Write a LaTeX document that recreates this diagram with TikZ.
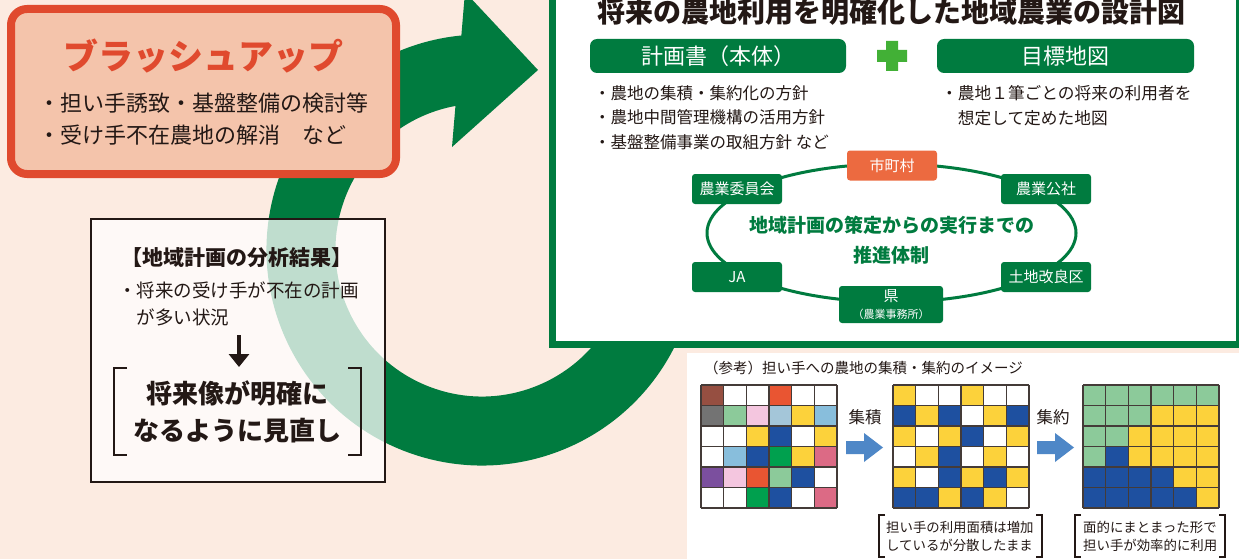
\documentclass[tikz,border=0pt]{standalone}
\usepackage{fontspec}
\setmainfont{Noto Sans CJK JP}
\usetikzlibrary{positioning,arrows.meta}

\definecolor{bgpeach}{HTML}{FCEBE1}
\definecolor{ringgreen}{HTML}{007B3F}
\definecolor{brushred}{HTML}{E04A2E}
\definecolor{brushfill}{HTML}{F4C4AB}
\definecolor{inkdark}{HTML}{231815}
\definecolor{plusgreen}{HTML}{42B036}
\definecolor{cityorange}{HTML}{EC6A40}
\definecolor{arrowblue}{HTML}{4E87C7}
% cell colours of the parcel maps
\definecolor{cellW}{HTML}{FFFFFF}
\definecolor{cellY}{HTML}{FCD23B}
\definecolor{cellB}{HTML}{1E50A0}
\definecolor{cellG}{HTML}{8CCA9A}
\definecolor{cellD}{HTML}{00A04E}
\definecolor{cellR}{HTML}{E95532}
\definecolor{cellN}{HTML}{964F41}
\definecolor{cellK}{HTML}{737373}
\definecolor{cellP}{HTML}{F4C6DF}
\definecolor{cellS}{HTML}{A4C6D9}
\definecolor{cellL}{HTML}{88BEDC}
\definecolor{cellM}{HTML}{DC6A85}
\definecolor{cellV}{HTML}{7B4F9E}

\def\cellw{22.67}
\def\cellh{20.5}
\def\gridtop{385}
\newcommand\plotgrid[2]{%
\foreach \cells [count=\r from 0] in {#2} {
\foreach \c [count=\k from 0] in \cells
\fill[fill=cell\c] ({#1+\k*\cellw},{\gridtop+\r*\cellh}) rectangle ++(\cellw,\cellh);
}
\foreach \k in {0,...,6} {
\draw[gridrule] ({#1+\k*\cellw},\gridtop) -- ++(0,{6*\cellh});
\draw[gridrule] (#1,{\gridtop+\k*\cellh}) -- ++({6*\cellw},0);
}
}

\tikzset{blockarrow/.pic={
\fill[arrowblue] (0,-6.5) -- (18,-6.5) -- (18,-14.5) -- (37,0) -- (18,14.5) -- (18,6.5) -- (0,6.5) -- cycle;
}}

\begin{document}
\begin{tikzpicture}[x=1pt,y=-1pt,
every node/.style={inner sep=0pt,text=inkdark},
ring/.style={draw=ringgreen,line width=69pt},
pill/.style={fill=ringgreen,rounded corners=7pt,text=white,minimum height=34pt,font=\fontsize{22}{26}\selectfont},
orgbox/.style={fill=ringgreen,rounded corners=3pt,text=white,minimum width=90pt,minimum height=30pt,font=\fontsize{15}{17}\selectfont},
gridrule/.style={draw=inkdark!85,line width=1.1pt},
bracket/.style={draw=inkdark,line width=1.3pt},
note/.style={anchor=west,align=left,font=\fontsize{13.4}{18}\selectfont}]
\useasboundingbox (0,0) rectangle (1239,559);
\fill[bgpeach] (0,0) rectangle (1239,559);

% circular arrow
\draw[ring] (482,250) ++(20:181) arc[start angle=20,end angle=265,radius=181];
\fill[ringgreen] (452,147) -- (538,70) -- (465,-8) -- cycle;

% brush up
\node[draw=brushred,fill=brushfill,line width=8pt,rounded corners=16pt,minimum width=385pt,minimum height=165pt] (brush) at (203.5,91.5) {};
\node[font=\bfseries\fontsize{35}{40}\selectfont,text=brushred] (brushhead) at (203.5,56) {ブラッシュアップ};
\node[anchor=west,align=left,font=\fontsize{22}{32}\selectfont] (brushlist) at (38,119) {・担い手誘致・基盤整備の検討等\\・受け手不在農地の解消　など};

% analysis
\node[draw=inkdark,line width=1.5pt,fill=white,fill opacity=.75,minimum width=294pt,minimum height=263pt] (review) at (238,350.5) {};
\node[font=\bfseries\fontsize{21}{24}\selectfont] (reviewhead) at (236.5,258) {【地域計画の分析結果】};
\node[anchor=west,align=left,font=\fontsize{18.5}{27}\selectfont] (finding) at (118,303.5) {・将来の受け手が不在の計画\\\phantom{・}が多い状況};
\coordinate (arrtop) at (239,335);
\coordinate (arrbot) at (239,367);
\draw[line width=4pt,-{Triangle[width=20pt,length=13pt]},inkdark] (arrtop) -- (arrbot);
\draw[bracket] (127,368) -- (114,368) -- (114,455) -- (127,455);
\draw[bracket] (348,368) -- (361,368) -- (361,455) -- (348,455);
\node[font=\bfseries\fontsize{26}{37}\selectfont,align=center] (goal) at (237.5,411.5) {将来像が明確に\\なるように見直し};

% design of regional farming
\node[draw=ringgreen,line width=7pt,fill=white,minimum width=687.5pt,minimum height=351pt,anchor=north west] (design) at (548.5,-10) {};
\node[font=\bfseries\fontsize{28}{32}\selectfont] (title) at (891,12) {将来の農地利用を明確化した地域農業の設計図};
\node[pill,minimum width=256pt] (plan) at (718,56) {計画書（本体）};
\node[pill,minimum width=257pt] (map) at (1065.5,56) {目標地図};
\fill[plusgreen] (877,50) rectangle (907,62) (886,41) rectangle (898,71);
\node[anchor=west,align=left,font=\fontsize{16.5}{24.5}\selectfont] (planlist) at (594,117.5) {・農地の集積・集約化の方針\\・農地中間管理機構の活用方針\\・基盤整備事業の取組方針 など};
\node[anchor=west,align=left,font=\fontsize{16.7}{25}\selectfont] (maplist) at (941,105.5) {・農地１筆ごとの将来の利用者を\\\phantom{・}想定して定めた地図};

% promotion system
\draw[line width=3pt,ringgreen] (891.5,233) ellipse[x radius=184.5,y radius=69];
\node[orgbox,fill=cityorange] (city) at (892,165.5) {市町村};
\node[orgbox] (committee) at (737,189) {農業委員会};
\node[orgbox] (corp) at (1046,189) {農業公社};
\node[orgbox] (ja) at (737,277) {JA};
\node[orgbox] (landimp) at (1046,277) {土地改良区};
\node[orgbox,minimum width=104pt,minimum height=37pt,align=center] (pref) at (891,304.5) {県\\{\fontsize{11}{14}\selectfont （農業事務所）}};
\node[font=\bfseries\fontsize{19}{30}\selectfont,text=ringgreen,align=center] (system) at (891.5,240) {地域計画の策定からの実行までの\\推進体制};

% reference panel
\fill[white] (687,353) rectangle (1239,559);
\node[anchor=west,font=\fontsize{14.5}{16}\selectfont] (refnote) at (704,368) {（参考）担い手への農地の集積・集約のイメージ};
\plotgrid{701}{{N,W,W,R,W,W},{K,G,P,S,Y,L},{W,W,Y,B,W,Y},{W,L,B,D,Y,M},{V,P,R,G,B,W},{W,W,D,B,W,M}}
\plotgrid{893}{{Y,W,W,Y,W,W},{B,Y,B,W,Y,B},{Y,W,Y,B,W,Y},{W,Y,B,W,Y,W},{Y,W,B,Y,B,Y},{B,B,Y,B,Y,W}}
\plotgrid{1083}{{G,G,G,G,G,G},{G,G,G,Y,Y,Y},{G,G,Y,Y,Y,Y},{G,B,Y,Y,Y,Y},{B,B,B,B,Y,Y},{B,B,B,B,B,Y}}
\pic (gatherarrow) at (846,447.5) {blockarrow};
\pic (consolarrow) at (1037,447.5) {blockarrow};
\node[font=\fontsize{16.5}{18}\selectfont] (gather) at (865,417) {集積};
\node[font=\fontsize{16.5}{18}\selectfont] (consol) at (1053,417) {集約};
\draw[bracket] (885,515) -- (879,515) -- (879,557) -- (885,557);
\draw[bracket] (1036,515) -- (1042,515) -- (1042,557) -- (1036,557);
\node[note] (scatter) at (886,536) {担い手の利用面積は増加\\しているが分散したまま};
\draw[bracket] (1081,515) -- (1075,515) -- (1075,557) -- (1081,557);
\draw[bracket] (1219,515) -- (1225,515) -- (1225,557) -- (1219,557);
\node[note] (compact) at (1083,536) {面的にまとまった形で\\担い手が効率的に利用};
\end{tikzpicture}
\end{document}
